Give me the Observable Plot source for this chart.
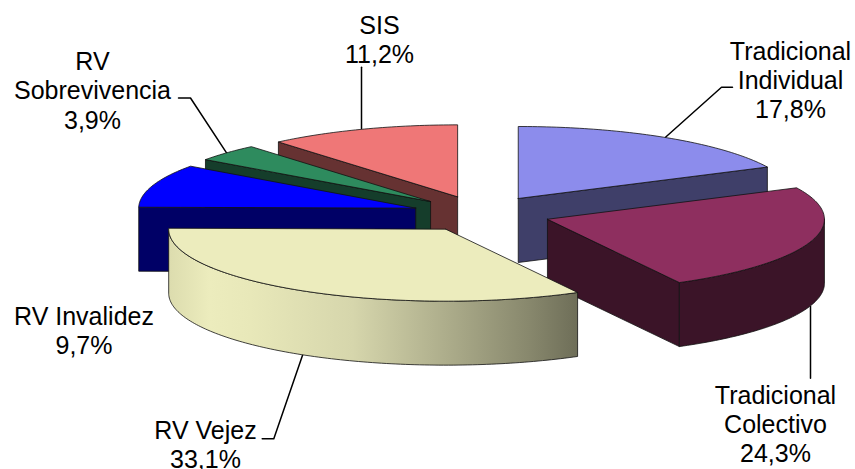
<!DOCTYPE html>
<html lang="es">
<head>
<meta charset="utf-8">
<title>Composición por modalidad</title>
<script src="https://cdn.jsdelivr.net/npm/d3@7"></script>
<script src="https://cdn.jsdelivr.net/npm/@observablehq/plot@0.6"></script>
<style>
  html, body { margin: 0; padding: 0; background: #fff; overflow: hidden; }
  svg { display: block; }
</style>
</head>
<body>
<div id="chart"></div>
<script>
// Slices, clockwise from twelve o'clock.
const categories = ["Tradicional Individual", "Tradicional Colectivo", "RV Vejez", "RV Invalidez", "RV Sobrevivencia", "SIS"];
const shares = [17.8, 24.3, 33.1, 9.7, 3.9, 11.2];
const labelLines = ["Tradicional\nIndividual", "Tradicional\nColectivo", "RV Vejez", "RV Invalidez", "RV\nSobrevivencia", "SIS"];

// Face colours for each slice.
const topColors = ["#8C8CEC", "#8E2F5F", "#ECECBD", "#0000FF", "#2E8B5E", "#EF7777"];
const wallColors = ["#3F3F69", "#3B1428", "url(#vejezWall)", "#000066", "#153D2B", "#663232"];

// Label anchors and leader lines, in page pixels.
const labelX = [790, 775, 205, 83.5, 92, 379];
const labelY = [79, 423, 444, 330, 89.5, 39];
const leaders = [
  [[732, 86.7], [721, 86.7], [665, 136.7]],
  [[810, 306], [810, 377.7]],
  [[261.7, 438.3], [273.3, 438.3], [302.3, 354]],
  [],
  [[178, 97.5], [190, 97.5], [226.7, 153.3]],
  [[361, 66.7], [361, 128]]
];

// Tilted-pie geometry.
const width = 855, height = 469;
const center = {x: 481, y: 213.25};
const radiusX = 277, radiusY = 72, depth = 64, explode = 0.25;

const rad = (deg) => (deg * Math.PI) / 180;
const onEllipse = (deg, origin, drop = 0) => ({
  x: origin.x + radiusX * Math.sin(rad(deg)),
  y: origin.y - radiusY * Math.cos(rad(deg)) + drop
});
function arcPoints(a0, a1, origin, drop = 0) {
  const n = Math.max(2, Math.ceil(Math.abs(a1 - a0)));
  return d3.range(n + 1).map((i) => onEllipse(a0 + ((a1 - a0) * i) / n, origin, drop));
}

// Turn each share into its top face and the walls that face the viewer.
const total = d3.sum(shares);
let running = 0;
const slices = shares.map((share, i) => {
  const a0 = running;
  running += (share / total) * 360;
  const a1 = running;
  const mid = (a0 + a1) / 2;
  const apex = {
    x: center.x + explode * radiusX * Math.sin(rad(mid)),
    y: center.y - explode * radiusY * Math.cos(rad(mid))
  };
  const under = {x: apex.x, y: apex.y + depth};
  const top = [apex, ...arcPoints(a0, a1, apex), apex];
  const walls = [];
  const radialWall = (a) => {
    const rim = onEllipse(a, apex);
    walls.push([apex, rim, onEllipse(a, apex, depth), under, apex]);
  };
  if (Math.sin(rad(a0)) < -1e-6) radialWall(a0);
  if (Math.sin(rad(a1)) > 1e-6) radialWall(a1);
  const arc0 = Math.max(a0, 90), arc1 = Math.min(a1, 270);
  if (arc0 < arc1) {
    const upper = arcPoints(arc0, arc1, apex);
    const lower = arcPoints(arc1, arc0, apex, depth);
    walls.push([...upper, ...lower, upper[0]]);
  }
  return {i, top, walls};
});

// Painter's order: far slices first, the large front slice last.
const paintOrder = [5, 4, 3, 0, 1, 2];

const edge = {x: "x", y: "y", stroke: "#111", strokeWidth: 0.8, strokeLinejoin: "round"};
const sliceMarks = paintOrder.flatMap((i) => {
  const s = slices[i];
  return [
    ...s.walls.map((w) => Plot.line(w, {...edge, fill: wallColors[i]})),
    Plot.line(s.top, {...edge, fill: topColors[i]})
  ];
});

// Shading for the curved wall of the front slice.
const wallGradient = () => {
  const defs = d3.create("svg:defs");
  const g = defs.append("linearGradient").attr("id", "vejezWall");
  [[0, "#DCDCAE"], [0.1, "#ECECBD"], [0.2, "#E8E8B9"], [0.45, "#D6D6AC"], [0.7, "#A9A988"], [0.88, "#88886D"], [1, "#6E6E58"]]
    .forEach(([offset, color]) => g.append("stop").attr("offset", offset).attr("stop-color", color));
  return defs.node();
};

const labels = categories.map((name, i) => ({
  name,
  text: `${labelLines[i]}\n${shares[i].toFixed(1).replace(".", ",")}%`,
  x: labelX[i],
  y: labelY[i]
}));

const chart = Plot.plot({
  width,
  height,
  margin: 0,
  x: {axis: null, domain: [0, width], range: [0, width]},
  y: {axis: null, domain: [0, height], range: [0, height]},
  marks: [
    wallGradient,
    ...leaders.filter((l) => l.length).map((l) =>
      Plot.line(l, {x: (d) => d[0], y: (d) => d[1], stroke: "#000", strokeWidth: 1.5})
    ),
    ...sliceMarks,
    Plot.text(labels, {
      x: "x",
      y: "y",
      text: "text",
      fontFamily: "Liberation Sans",
      fontSize: 25,
      lineHeight: 1.17,
      fill: "#000",
      textAnchor: "middle"
    })
  ]
});
document.getElementById("chart").appendChild(chart);
</script>
</body>
</html>
